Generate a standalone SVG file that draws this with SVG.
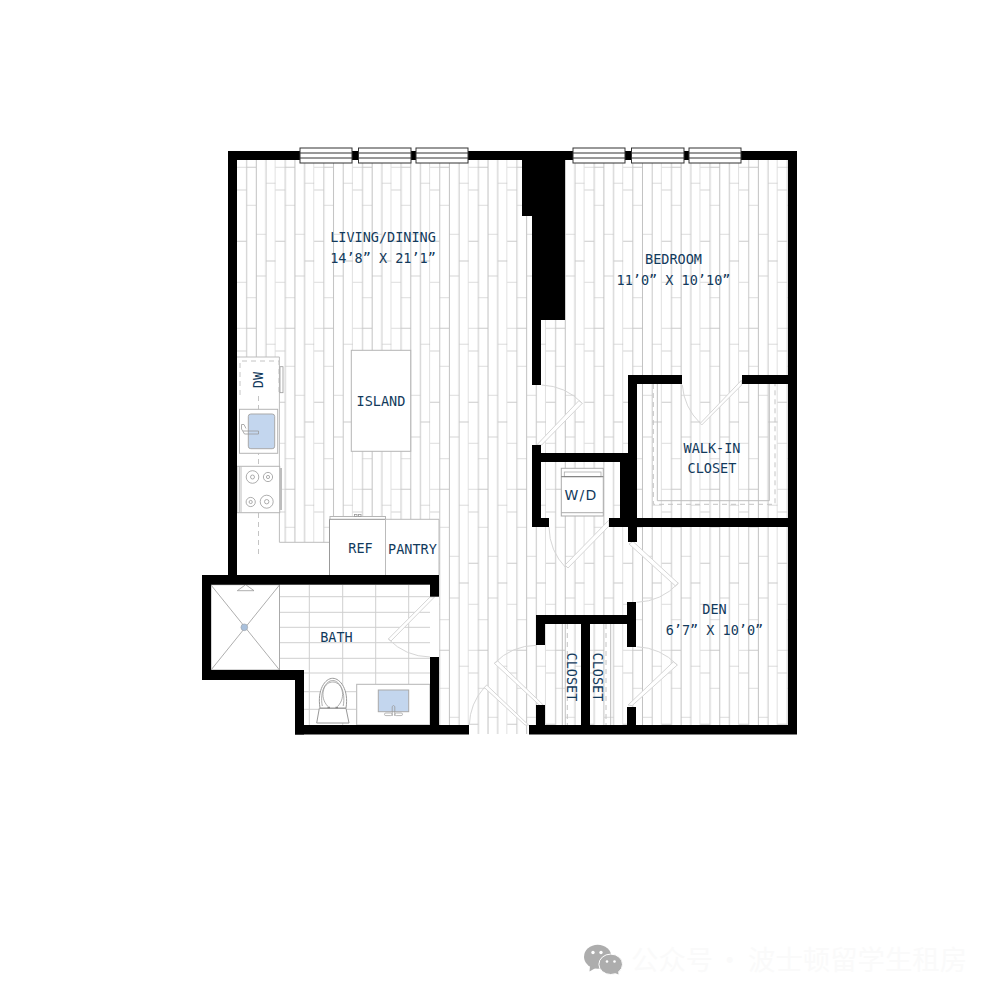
<svg xmlns="http://www.w3.org/2000/svg" width="1000" height="1000" viewBox="0 0 1000 1000">
<style>
.t{font-family:"DejaVu Sans Mono","Liberation Mono",monospace;font-size:13.5px;fill:#123a5c;text-anchor:middle}
.wall{fill:#000}
.fix{fill:#fff;stroke:#b5b5b5;stroke-width:1}
.ln{fill:none;stroke:#bdbdbd;stroke-width:1}
.dash{fill:none;stroke:#c4c4c4;stroke-width:1;stroke-dasharray:5 4}
.leaf{fill:#fff;stroke:#d6d6d6;stroke-width:1}
.arc{fill:none;stroke:#d6d6d6;stroke-width:1}
.win{fill:#fff;stroke:#333;stroke-width:1}
.tile{stroke:#cfcfcf;stroke-width:1;fill:none}
.blue{fill:#c3d6ee;stroke:#a9a9a9;stroke-width:1}
.cmp{fill:none;stroke:#999;stroke-width:.8}
</style>
<defs>
<pattern id="planks" patternUnits="userSpaceOnUse" x="237" y="160" width="38.62" height="161">
<rect width="38.62" height="161" fill="#fff"/>
<g stroke="#e4e4e4" stroke-width="1.3">
<path d="M0 30H9.65M0 122.3H9.65M0 7.3H9.65"/>
<path d="M9.65 137.7H19.3M9.65 45.3H19.3"/>
<path d="M19.3 116H28.96M19.3 74.3H28.96"/>
<path d="M28.96 23.3H38.62"/>
</g>
<g stroke="#cbcbcb" stroke-width="1">
<path d="M0 81.2H9.65M9.65 7.3H19.3M28.96 101H38.62"/>
</g>
<path d="M9.65 0V161M28.96 0V161" stroke="#c8c8c8" stroke-width="1"/>
<path d="M19.3 0V161M38.62 0V161" stroke="#c2c2c2" stroke-width="1"/>
</pattern>
</defs>
<rect width="1000" height="1000" fill="#fff"/>
<g id="floor">
<path fill="url(#planks)" d="M237 160H788V725H529V734H469V725H439V575H237Z"/>
</g>
<g id="bath-tile">
<path class="tile" d="M309.3 585V725M342.7 585V725M375.7 585V684M408.7 585V684M279 596.7H430M279 612.3H430M279 627.3H430M279 642.7H430M279 658.3H430M279 673H430M304 691.7H356M304 709.3H356"/>
</g>
<g id="kitchen">
<path d="M237 357H279.4V542.3H329.5V575H237Z" fill="#fff"/>
<path class="ln" d="M237 357H279.4V542.3H329.5"/>
<path class="dash" d="M240 395V361H279V395"/>
<rect x="280" y="366.7" width="3" height="26" fill="#fff" stroke="#999" stroke-width=".8"/>
<path class="dash" d="M258.5 396V558"/>
<rect class="fix" x="239.5" y="409.3" width="38.2" height="44"/>
<rect class="blue" x="248.3" y="414" width="26.4" height="34.7" rx="2.5"/>
<path class="cmp" d="M243 431H258.5V434H244.5L241.5 429V424.5H244L246 428.5"/>
<rect class="fix" x="237" y="466.3" width="42.7" height="46.4"/>
<path class="ln" d="M239.3 466.3V512.7M241 466.3V512.7"/>
<g class="cmp">
<circle cx="252.5" cy="477" r="6.3"/><circle cx="252.5" cy="477" r="2"/>
<circle cx="268" cy="477" r="4.6"/><circle cx="268" cy="477" r="1.6"/>
<circle cx="250.7" cy="502" r="4.6"/><circle cx="250.7" cy="502" r="1.6"/>
<circle cx="266.7" cy="501.7" r="6.5"/><circle cx="266.7" cy="501.7" r="2.2"/>
</g>
<rect x="279.5" y="468" width="2.5" height="42" fill="#bdbdbd"/>
</g>
<g id="island">
<rect class="fix" x="351.3" y="350.3" width="59.4" height="101"/>
<text class="t" x="381" y="406">ISLAND</text>
</g>
<g id="ref">
<rect class="fix" x="330" y="516.5" width="55.5" height="3"/>
<rect class="cmp" x="354.5" y="514.5" width="2.5" height="2"/><rect class="cmp" x="358.5" y="514.5" width="2.5" height="2"/>
<path fill="#fff" stroke="#999" stroke-width="1" d="M329.5 575V519.3H385.5V575"/>
<text class="t" x="360.5" y="553">REF</text>
</g>
<g id="pantry">
<path fill="#fff" stroke="#bbb" stroke-width="1" d="M385.5 575V519.3H439V575"/>
<text class="t" x="412.5" y="554">PANTRY</text>
</g>
<g id="shower">
<rect x="211" y="584.7" width="68.5" height="85.3" fill="#fff" stroke="#aaa" stroke-width="1"/>
<path stroke="#999" stroke-width=".8" d="M211 585L279.5 670M279.5 585L211 670"/>
<path fill="#fff" stroke="#999" stroke-width=".8" d="M237.3 590.7H254L245.7 584.7Z"/>
<circle cx="244.3" cy="627.3" r="3.4" fill="#a9c0dc" stroke="#999" stroke-width=".5"/>
</g>
<g id="toilet">
<path fill="#fff" stroke="#999" stroke-width="1" d="M319.3 708.3H346L349 723H316.7Z"/>
<path fill="#fff" stroke="#999" stroke-width="1" d="M320 708C317 690 325 678.3 332.7 678.3C340.4 678.3 349 690 346 708Z"/>
<path class="cmp" d="M322.3 706C319.5 691 326 680.5 332.7 680.5C339.4 680.5 346 691 343.2 706"/>
<path class="cmp" d="M328 706.5C323.5 702 322 696 323.5 690C325 684.5 329 682 332.7 682C336.5 682 340.5 684.5 342 690C343.5 696 342 702 337.5 706.5"/>
<path stroke="#888" stroke-width="1.5" d="M327.5 707.6H330M335.5 707.6H338"/>
</g>
<g id="vanity">
<rect class="fix" x="356.7" y="684.3" width="73.3" height="40.7"/>
<rect class="blue" x="378.3" y="690" width="30.4" height="21.7"/>
<path class="cmp" d="M392.2 716V706.5Q393.5 704.5 394.8 706.5V716"/>
<rect x="384.5" y="713" width="7.5" height="2.6" rx="1.3" fill="#fff" stroke="#999" stroke-width=".7"/>
<rect x="395" y="713" width="7.5" height="2.6" rx="1.3" fill="#fff" stroke="#999" stroke-width=".7"/>
</g>
<g id="closet-shelves">
<path class="ln" d="M562.3 624V725M610.7 624V725"/>
<path class="dash" d="M567.3 624V725M606 624V725"/>
<path class="ln" d="M657.3 384V500.7H769.3V384"/>
<path class="dash" d="M653.3 384V504.3H775V384"/>
</g>
<g id="washer-dryer">
<rect x="561.3" y="468.3" width="42" height="47.7" fill="#fff" stroke="#aaa" stroke-width="1"/>
<rect x="564.3" y="472" width="36.7" height="4.7" fill="#fff" stroke="#aaa" stroke-width=".8"/>
<path stroke="#777" stroke-width="1" d="M561.3 476.7H603.3"/>
<path stroke="#aaa" stroke-width="1" d="M561.3 512.7H603.3"/>
<text x="581" y="500" font-family="DejaVu Sans,sans-serif" font-size="14" letter-spacing="1.3" fill="#123a5c" text-anchor="middle">W/D</text>
</g>
<g id="doors">
<polygon class="leaf" points="430,597 434.5,597 391,641 388.3,639"/><path class="arc" d="M388.3 639A60 60 0 0 0 430 657"/>
<polygon class="leaf" points="486.7,685 528.5,725 525,725 484.3,687.5"/><path class="arc" d="M469.3 725A59 59 0 0 1 484.3 687.5"/>
<polygon class="leaf" points="494.3,663.3 497.7,661 543.3,705 540,705.7"/><path class="arc" d="M494.3 663.3A60 60 0 0 1 536.7 645.3"/>
<polygon class="leaf" points="677.3,665 673.5,661.7 628,705 632,705.7"/><path class="arc" d="M636.7 646.7A60 60 0 0 1 677.3 665"/>
<polygon class="leaf" points="678.3,583.3 633,541.5 629,544 675.5,586"/><path class="arc" d="M678.3 583.3A60 60 0 0 1 636.7 602.3"/>
<polygon class="leaf" points="582.3,403.3 541.7,445 536.7,445 579,400.5"/><path class="arc" d="M541.7 385A60 60 0 0 1 582.3 403.3"/>
<polygon class="leaf" points="741.7,380 741.7,385 701.7,425 700.3,423.3"/><path class="arc" d="M682.3 385A60 60 0 0 0 700.3 423.3"/>
<polygon class="leaf" points="609,520 609,526 568,568 565,565"/><path class="arc" d="M549 527A60 60 0 0 0 566 568"/>
</g>
<g id="walls" class="wall">
<rect x="228" y="151" width="9" height="433"/>
<rect x="228" y="151" width="569" height="9"/>
<rect x="788" y="151" width="9" height="583"/>
<path d="M522 151H565V320H541V385H532V216H522Z"/>
<rect x="202" y="575" width="237" height="9.7"/>
<rect x="202" y="575" width="9" height="105"/>
<rect x="202" y="670" width="102" height="10"/>
<rect x="295" y="670" width="9" height="64.5"/>
<rect x="295" y="725" width="174" height="9.5"/>
<rect x="430" y="575" width="9" height="21.7"/>
<rect x="430" y="657" width="9" height="70"/>
<rect x="529" y="725" width="268" height="9.5"/>
<rect x="536" y="615" width="100" height="9"/>
<rect x="536" y="615" width="9" height="30"/>
<rect x="536" y="705" width="9" height="22"/>
<rect x="581" y="615" width="9" height="112"/>
<rect x="627" y="602" width="9" height="45"/>
<rect x="627" y="707" width="9" height="20"/>
<rect x="532" y="445" width="9" height="82"/>
<rect x="532" y="453" width="105" height="9"/>
<rect x="532" y="518" width="17" height="9"/>
<rect x="620" y="453" width="17" height="74"/>
<rect x="609" y="518" width="188" height="9"/>
<rect x="628" y="375" width="9" height="167"/>
<rect x="628" y="375" width="54" height="9"/>
<rect x="742" y="375" width="55" height="9"/>
</g>
<g id="windows">
<g id="w1"><rect class="win" x="300" y="148" width="52" height="15"/><path stroke="#333" d="M300 153H352M300 158H352"/></g>
<g id="w2"><rect class="win" x="358.5" y="148" width="52.5" height="15"/><path stroke="#333" d="M358.5 153H411M358.5 158H411"/></g>
<g id="w3"><rect class="win" x="416" y="148" width="52" height="15"/><path stroke="#333" d="M416 153H468M416 158H468"/></g>
<g id="w4"><rect class="win" x="573" y="148" width="52" height="15"/><path stroke="#333" d="M573 153H625M573 158H625"/></g>
<g id="w5"><rect class="win" x="631.5" y="148" width="52.5" height="15"/><path stroke="#333" d="M631.5 153H684M631.5 158H684"/></g>
<g id="w6"><rect class="win" x="689" y="148" width="52" height="15"/><path stroke="#333" d="M689 153H741M689 158H741"/></g>
</g>
<g id="labels">
<text class="t" x="383" y="241.7">LIVING/DINING</text>
<text class="t" x="383" y="263">14’8” X 21’1”</text>
<text class="t" x="673.5" y="264">BEDROOM</text>
<text class="t" x="673.5" y="285">11’0” X 10’10”</text>
<text class="t" x="712" y="452.7">WALK-IN</text>
<text class="t" x="712" y="473.3">CLOSET</text>
<text class="t" x="714.5" y="614">DEN</text>
<text class="t" x="714.5" y="635">6’7” X 10’0”</text>
<text class="t" x="336.5" y="641.7">BATH</text>
<text class="t" transform="translate(263 380) rotate(-90)">DW</text>
<text class="t" transform="translate(567 677) rotate(90)">CLOSET</text>
<text class="t" transform="translate(593 677) rotate(90)">CLOSET</text>
</g>
<g id="watermark">
<ellipse cx="597.7" cy="956.7" rx="13.7" ry="12" fill="#adadad"/>
<path d="M590 966L589.5 971.5L595.5 968Z" fill="#adadad"/>
<ellipse cx="610.7" cy="964.3" rx="11.8" ry="10.2" fill="#adadad" stroke="#fff" stroke-width="1"/>
<path d="M615 973L618.5 974.5L618 970Z" fill="#adadad"/>
<g fill="#fff"><circle cx="593" cy="952.5" r="1.7"/><circle cx="601" cy="952.5" r="1.7"/><circle cx="607" cy="961.5" r="1.3"/><circle cx="614.5" cy="961.5" r="1.3"/></g>
<text x="631" y="970" font-family="Noto Sans CJK SC,sans-serif" font-size="27.4" fill="#fafafa">公众号</text>
<text x="716" y="970" font-family="Noto Sans CJK SC,sans-serif" font-size="27.4" fill="#fafafa">·</text>
<text x="748" y="970" font-family="Noto Sans CJK SC,sans-serif" font-size="27.4" fill="#fafafa">波士顿留学生租房</text>
</g>
</svg>
